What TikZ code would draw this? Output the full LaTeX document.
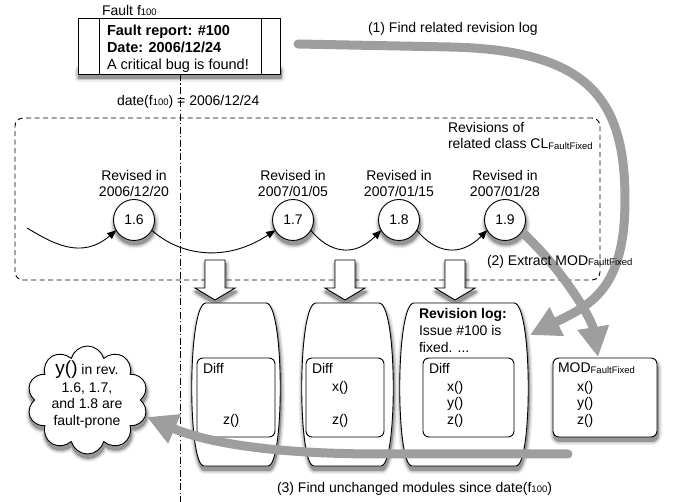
\documentclass[tikz,border=0pt]{standalone}
\usepackage{fontspec}
\setmainfont{Liberation Sans}
\usetikzlibrary{arrows.meta,shapes.symbols,calc}

% small lowered index, as in f_100 or MOD_FaultFixed
\newcommand\lowidx[1]{\raisebox{-0.8pt}{\fontsize{9.5}{10}\selectfont #1}}
\definecolor{flowgray}{RGB}{158,158,158}
\definecolor{shadeouter}{RGB}{236,236,236}
\definecolor{shademid}{RGB}{205,205,205}
\definecolor{shadeinner}{RGB}{150,150,150}

% outline of a barrel-shaped revision container: left, right, top, bottom (y measured downward)
\newcommand\barreloutline[4]{({#1+14},-#3) -- ({#2-14},-#3)
     .. controls ({#2+14/3},-#3) and ({#2+14/3},-#4) .. ({#2-12},-#4)
     -- ({#1+12},-#4)
     .. controls ({#1-14/3},-#4) and ({#1-14/3},-#3) .. cycle}
% hollow block arrow pointing down, tip at the given point
\newcommand\hollowoutline[1]{#1 -- ++(20,12) -- ++(-10,0) -- ++(0,28) -- ++(-20,0)
     -- ++(0,-28) -- ++(-10,0) -- cycle}
% soft drop shadow built from three graded layers
\newcommand\shadepath[1]{\path[shadeA] #1; \path[shadeB] #1; \path[shadeC] #1;}

\begin{document}
\begin{tikzpicture}[x=1pt, y=1pt,
  every node/.style={inner sep=0pt, outer sep=0pt, font=\fontsize{14}{16.5}\selectfont},
  shadeA/.style={draw=shadeouter, fill=shadeouter, line width=8pt, line join=round},
  shadeB/.style={draw=shademid, fill=shademid, line width=5pt, line join=round},
  shadeC/.style={draw=shadeinner, fill=shadeinner, line width=2pt, line join=round},
  outline/.style={line width=0.9pt},
  revcircle/.style={circle, draw, outline, fill=white, minimum size=41pt},
  wave/.style={outline, -{Triangle[length=9pt,width=7.5pt]}},
  hollow/.style={draw, outline, fill=white, line join=miter},
  barrel/.style={draw, outline, fill=white},
  diffbox/.style={draw, outline, fill=white, rounded corners=6pt},
  cloudshape/.style={cloud, cloud puffs=10, aspect=1.1, minimum width=121pt, minimum height=108pt},
  flow/.style={draw=flowgray, line width=9pt, line cap=round,
      -{Triangle[width=30pt,length=30pt]}},
  txt/.style={anchor=north west, align=left},
  ctxt/.style={anchor=north, align=center},
]
\useasboundingbox (0,0) rectangle (678,-502);

% positions of the solid shapes
\coordinate (faultc) at (179,-46);
\coordinate (c16) at (134,-220);
\coordinate (c17) at (293,-220);
\coordinate (c18) at (399,-220);
\coordinate (c19) at (505,-220);
\coordinate (drop1) at (215,-300);
\coordinate (drop2) at (345,-300);
\coordinate (drop3) at (455,-300);
\coordinate (modc) at (605,-397.5);
\coordinate (cloudc) at (87.5,-400);

% drop shadows, drawn first so that everything else lies on top
\shadepath{($(faultc)+(-100.2,-32)$) rectangle ($(faultc)+(101.8,-24)$)}
\foreach \c in {c16,c17,c18,c19}
  {\shadepath{($(\c)+(0.8,-4)$) circle (20.5)}}
\foreach \d in {drop1,drop2,drop3}
  {\shadepath{\hollowoutline{($(\d)+(0.8,-4)$)}}}
\begin{scope}[shift={(0.8,-4)}]
  \shadepath{\barreloutline{192}{280}{303}{466}}
  \shadepath{\barreloutline{302}{393}{303}{466}}
  \shadepath{\barreloutline{400}{528}{303}{466}}
\end{scope}
\shadepath{[rounded corners=6pt] ($(modc)+(-51.2,35.5)$) rectangle ($(modc)+(52.8,-43.5)$)}
\node[cloudshape, shadeA] (verdictshadeA) at ($(cloudc)+(0.8,-4)$) {};
\node[cloudshape, shadeB] (verdictshadeB) at ($(cloudc)+(0.8,-4)$) {};
\node[cloudshape, shadeC] (verdictshadeC) at ($(cloudc)+(0.8,-4)$) {};

% dashed frame around the revision history
\node[draw, outline, dash pattern=on 5pt off 3.5pt, rounded corners=8pt,
  minimum width=585pt, minimum height=162pt] (history) at (307.5,-199) {};

% fault report card
\node[draw, outline, fill=white, minimum width=202pt, minimum height=56pt] (fault) at (faultc) {};
\draw[outline] ([xshift=21pt]fault.north west) -- ([xshift=21pt]fault.south west);
\draw[outline] ([xshift=-19pt]fault.north east) -- ([xshift=-19pt]fault.south east);

% date cut line
\coordinate (cutend) at (180,-502);
\draw[outline, dash pattern=on 7pt off 2.5pt on 1.2pt off 2.5pt] (fault.south -| cutend) -- (cutend);

% revisions of the class
\coordinate (modtip) at (598,-357);
\draw[flow] ($(c19)+(-35:20)$) .. controls (565,-272) and (592,-320) .. (modtip);

\node[revcircle] (r16) at (c16) {1.6};
\node[revcircle] (r17) at (c17) {1.7};
\node[revcircle] (r18) at (c18) {1.8};
\node[revcircle] (r19) at (c19) {1.9};
\coordinate (wavestart) at (27,-228);
\draw[wave] (wavestart) .. controls +(25,-15) and +(-35,-30) .. (r16.210);
\draw[wave] (r16.-30) .. controls +(28,-25) and +(-50,-33) .. (r17.210);
\draw[wave] (r17.-30) .. controls +(18,-22) and +(-28,-28) .. (r18.210);
\draw[wave] (r18.-30) .. controls +(18,-22) and +(-28,-28) .. (r19.210);

\node[ctxt] (when16) at (134,-170) {Revised in\\2006/12/20};
\node[ctxt] (when17) at (293,-170) {Revised in\\2007/01/05};
\node[ctxt] (when18) at (399,-170) {Revised in\\2007/01/15};
\node[ctxt] (when19) at (505,-170) {Revised in\\2007/01/28};

% extraction arrows and revision contents
\foreach \d in {drop1,drop2,drop3} {\path[hollow] \hollowoutline{(\d)};}

\path[barrel] \barreloutline{192}{280}{303}{466};
\path[barrel] \barreloutline{302}{393}{303}{466};
\path[barrel] \barreloutline{400}{528}{303}{466};
\node[minimum width=88pt, minimum height=163pt] (b1) at (236,-384.5) {};
\node[minimum width=91pt, minimum height=163pt] (b2) at (347.5,-384.5) {};
\node[minimum width=128pt, minimum height=163pt] (b3) at (464,-384.5) {};

\node[diffbox, minimum width=78pt, minimum height=79pt] (d1) at (236,-397.5) {};
\node[diffbox, minimum width=78pt, minimum height=79pt] (d2) at (345,-397.5) {};
\node[diffbox, minimum width=91pt, minimum height=79pt] (d3) at (468.5,-397.5) {};
\node[diffbox, minimum width=104pt, minimum height=79pt] (mod) at (modc) {};

\node[txt] (d1t) at ([shift={(6,-5)}]d1.north west) {Diff};
\node[txt] (d1z) at ([shift={(26,-56)}]d1.north west) {z()};
\node[txt] (d2t) at ([shift={(6,-5)}]d2.north west) {Diff};
\node[txt] (d2x) at ([shift={(26,-23)}]d2.north west) {x()};
\node[txt] (d2z) at ([shift={(26,-56)}]d2.north west) {z()};
\node[txt] (d3t) at ([shift={(6,-5)}]d3.north west) {Diff};
\node[txt] (d3x) at ([shift={(24,-23)}]d3.north west) {x()};
\node[txt] (d3y) at ([shift={(24,-39.5)}]d3.north west) {y()};
\node[txt] (d3z) at ([shift={(24,-56)}]d3.north west) {z()};
\node[txt] (modt) at ([shift={(5,-5)}]mod.north west) {MOD\lowidx{FaultFixed}};
\node[txt] (modx) at ([shift={(24,-23)}]mod.north west) {x()};
\node[txt] (mody) at ([shift={(24,-39.5)}]mod.north west) {y()};
\node[txt] (modz) at ([shift={(24,-56)}]mod.north west) {z()};
\node[txt, font=\fontsize{14}{17}\selectfont] (log) at (419,-308)
  {\textbf{Revision log:}\\Issue \#100 is\\fixed. ...};

% conclusion
\node[cloudshape, draw, outline, fill=white] (verdict) at (cloudc) {};
\node[ctxt] (verdicttext) at (87,-361)
  {{\fontsize{19}{19}\selectfont y()} in rev.\\[1pt]1.6, 1.7,\\and 1.8 are\\fault-prone};

% process flow
\coordinate (find1) at ($(fault.east)+(18,2)$);
\coordinate (logtip) at (530,-335);
\draw[flow] (find1) -- (450,-47) .. controls (590,-50) and (625,-100) .. (625,-200)
  .. controls (625,-290) and (590,-305) .. (logtip);
\coordinate (unchanged) at (568,-454);
\coordinate (cloudtip) at (147,-417);
\draw[flow] (unchanged) -- (380,-454) .. controls (260,-454) and (200,-440) .. (cloudtip);

% labels
\node[txt] (faultlbl) at (102,-5) {Fault f\lowidx{100}};
\node[txt, font=\fontsize{14.5}{17}\selectfont] (report) at (107,-25)
  {\textbf{Fault report: \#100}\\\textbf{Date: 2006/12/24}\\A critical bug is found!};
\node[txt] (cutlbl) at (117,-95) {date(f\lowidx{100}) = 2006/12/24};
\node[txt] (step1) at (368,-22) {(1) Find related revision log};
\node[txt] (histlbl) at (448,-122) {Revisions of\\related class CL\lowidx{FaultFixed}};
\node[txt] (step2) at (487,-255) {(2) Extract MOD\lowidx{FaultFixed}};
\node[txt] (step3) at (277,-482) {(3) Find unchanged modules since date(f\lowidx{100})};
\end{tikzpicture}
\end{document}
